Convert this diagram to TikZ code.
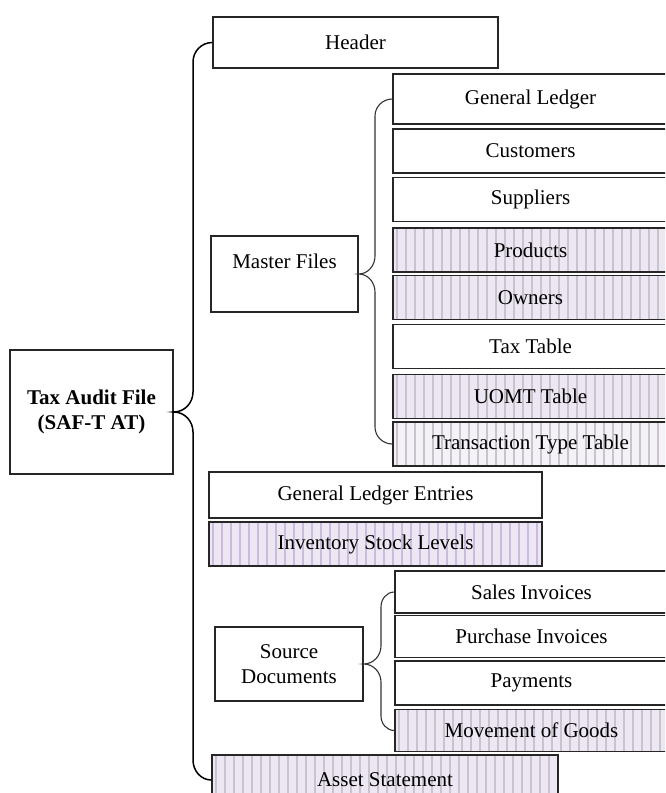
\documentclass[tikz,border=0pt]{standalone}
\usepackage{fontspec}
\setmainfont{Liberation Serif}
\definecolor{lilac}{HTML}{ECE7F2}
\definecolor{paleback}{HTML}{F4F2F6}
\definecolor{stripegrey}{HTML}{C8C3CD}
\definecolor{stripepurple}{HTML}{CBBCDE}

\begin{document}
\begin{tikzpicture}[x=1pt,y=-1pt,
		box/.style={draw=black!85,line width=1.3pt,inner sep=0pt,align=center,font=\fontsize{21}{25}\selectfont},
		leaf/.style={box,minimum width=275pt,minimum height=44pt},
		lowleaf/.style={box,minimum width=273pt,minimum height=42pt},
		striped/.style 2 args={fill=#1,path picture={
				\foreach \k in {4,13,...,400}
					\draw[#2,line width=2pt] ([xshift=\k pt]path picture bounding box.south west) -- ([xshift=\k pt]path picture bounding box.north west);
			}},
		brace/.style={draw=black,line width=1.5pt},
		subbrace/.style={draw=black!80,line width=1.1pt}]
			\useasboundingbox (0,0) rectangle (665,793);
			\clip (0,0) rectangle (665,793);
			\node[box,line width=1.6pt,minimum width=285pt,minimum height=51pt] (hdr) at (355.5,42.5) {Header};
			\node[box,line width=1.6pt,minimum width=163pt,minimum height=124pt,font=\fontsize{21}{25}\selectfont\bfseries] (taf) at (91.5,412) {Tax Audit File\\(SAF-T AT)};
			\node[box,minimum width=147pt,minimum height=76pt] (master) at (284.5,274) {Master Files\\\mbox{}};
			\node[leaf,minimum height=50pt] (gl) at (530.5,99) {General Ledger};
			\node[leaf] (cust) at (530.5,151) {Customers};
			\node[leaf] (supp) at (530.5,199.5) {Suppliers};
			\node[leaf,striped={lilac}{stripegrey}] (prod) at (530.5,250) {Products};
			\node[leaf,striped={lilac}{stripegrey}] (own) at (530.5,297.5) {Owners};
			\node[leaf] (taxt) at (530.5,346.5) {Tax Table};
			\node[leaf,striped={lilac}{stripegrey}] (uomt) at (530.5,396.5) {UOMT Table};
			\node[leaf,striped={paleback}{stripegrey}] (ttt) at (530.5,444) {Transaction Type Table};
			\node[box,line width=1.6pt,minimum width=333pt,minimum height=46pt] (gle) at (375.5,495) {General Ledger Entries};
			\node[box,line width=1.6pt,minimum width=333pt,minimum height=44pt,striped={lilac}{stripepurple}] (isl) at (375.5,544) {Inventory Stock Levels};
			\node[box,minimum width=148pt,minimum height=74pt] (src) at (289,664) {Source\\Documents};
			\node[lowleaf] (si) at (531.5,592) {Sales Invoices};
			\node[lowleaf] (pi) at (531.5,636.5) {Purchase Invoices};
			\node[lowleaf,minimum height=44pt] (pay) at (531.5,683) {Payments};
			\node[lowleaf,striped={lilac}{stripegrey}] (mog) at (531.5,730.5) {Movement of Goods};
			\node[box,minimum width=346pt,minimum height=50pt,striped={lilac}{stripegrey}] (asset) at (385,780) {Asset Statement};
			\draw[brace] (hdr.west) to[out=180,in=90] (193,62) -- (193,392) to[out=-90,in=0] (taf.east) to[out=0,in=90] (193,432) -- (193,760) to[out=-90,in=180] (asset.west);
			\draw[subbrace] (gl.west) to[out=180,in=90] (375,116) -- (375,256) to[out=-90,in=0] (master.east) to[out=0,in=90] (375,292) -- (375,427) to[out=-90,in=180] (ttt.west);
			\draw[subbrace] (si.west) to[out=180,in=90] (381,607) -- (381,646) to[out=-90,in=0] (src.east) to[out=0,in=90] (381,682) -- (381,716) to[out=-90,in=180] (mog.west);
		\end{tikzpicture}
\end{document}
